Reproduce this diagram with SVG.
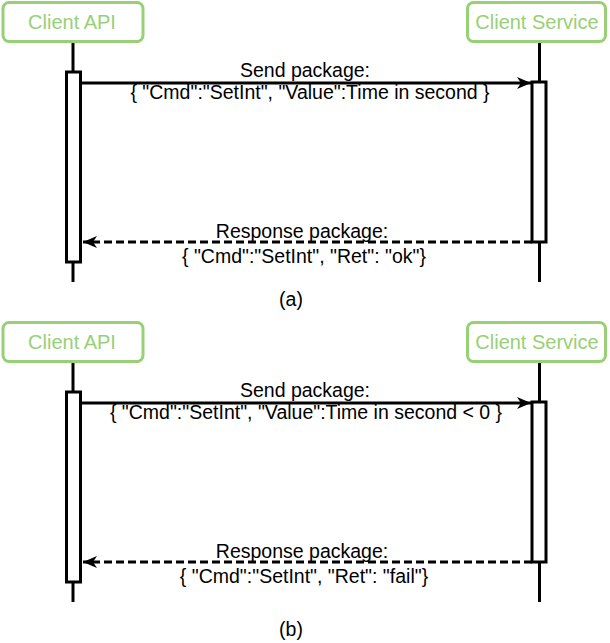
<svg xmlns="http://www.w3.org/2000/svg" width="610" height="643" viewBox="0 0 610 643">
<style>
.actor rect{fill:#fff;stroke:#97D077;stroke-width:3}
.actor text{fill:#97D077;font-family:"Liberation Sans",Arial,sans-serif;font-size:20px;text-anchor:middle}
.life{stroke:#000;stroke-width:3;fill:none}
.bar{fill:#fff;stroke:#000;stroke-width:3}
.msg{stroke:#000;stroke-width:3;fill:none}
.dash{stroke-dasharray:8 4}
.lbl{font-family:"Liberation Sans",Arial,sans-serif;font-size:19.5px;fill:#000;text-anchor:middle}
</style>
<defs>
<marker id="ah" markerUnits="userSpaceOnUse" markerWidth="16" markerHeight="14" refX="14" refY="7" orient="auto">
<path d="M0,1 L14,7 L0,13 L4,7 Z" fill="#000"/>
</marker>
</defs>

<!-- Panel (a) -->
<g id="a-lifelines">
<line class="life" x1="73" y1="42" x2="73" y2="282"/>
<line class="life" x1="539.5" y1="42" x2="539.5" y2="282"/>
</g>
<g id="a-client-api" class="actor">
<rect x="3" y="2.5" width="140" height="39" rx="6"/>
<text x="72" y="29">Client API</text>
</g>
<g id="a-client-service" class="actor">
<rect x="467.5" y="2.5" width="138" height="39" rx="6"/>
<text x="537" y="29">Client Service</text>
</g>
<g id="a-api-activation"><rect class="bar" x="66.5" y="72" width="14" height="190"/></g>
<g id="a-service-activation"><rect class="bar" x="532" y="82" width="14" height="160"/></g>
<g id="a-connectors">
<line class="msg" x1="80.5" y1="83" x2="531" y2="83" marker-end="url(#ah)"/>
<line class="msg dash" x1="532" y1="242" x2="83" y2="242" marker-end="url(#ah)"/>
</g>
<g id="a-labels">
<text class="lbl" x="305" y="77">Send package:</text>
<text class="lbl" x="310" y="98.5">{ "Cmd":"SetInt", "Value":Time in second }</text>
<text class="lbl" x="302" y="238">Response package:</text>
<text class="lbl" x="304" y="263">{ "Cmd":"SetInt", "Ret": "ok"}</text>
<text class="lbl" x="291" y="306">(a)</text>
</g>

<!-- Panel (b) -->
<g id="b-lifelines">
<line class="life" x1="73" y1="362" x2="73" y2="602"/>
<line class="life" x1="539.5" y1="362" x2="539.5" y2="602"/>
</g>
<g id="b-client-api" class="actor">
<rect x="3" y="322.5" width="140" height="39" rx="6"/>
<text x="72" y="349">Client API</text>
</g>
<g id="b-client-service" class="actor">
<rect x="467.5" y="322.5" width="138" height="39" rx="6"/>
<text x="537" y="349">Client Service</text>
</g>
<g id="b-api-activation"><rect class="bar" x="66.5" y="392" width="14" height="190"/></g>
<g id="b-service-activation"><rect class="bar" x="532" y="402" width="14" height="160"/></g>
<g id="b-connectors">
<line class="msg" x1="80.5" y1="403" x2="531" y2="403" marker-end="url(#ah)"/>
<line class="msg dash" x1="532" y1="562" x2="83" y2="562" marker-end="url(#ah)"/>
</g>
<g id="b-labels">
<text class="lbl" x="305" y="397">Send package:</text>
<text class="lbl" x="306" y="418.5">{ "Cmd":"SetInt", "Value":Time in second &lt; 0 }</text>
<text class="lbl" x="302" y="558">Response package:</text>
<text class="lbl" x="304" y="583">{ "Cmd":"SetInt", "Ret": "fail"}</text>
<text class="lbl" x="291" y="636">(b)</text>
</g>
</svg>
